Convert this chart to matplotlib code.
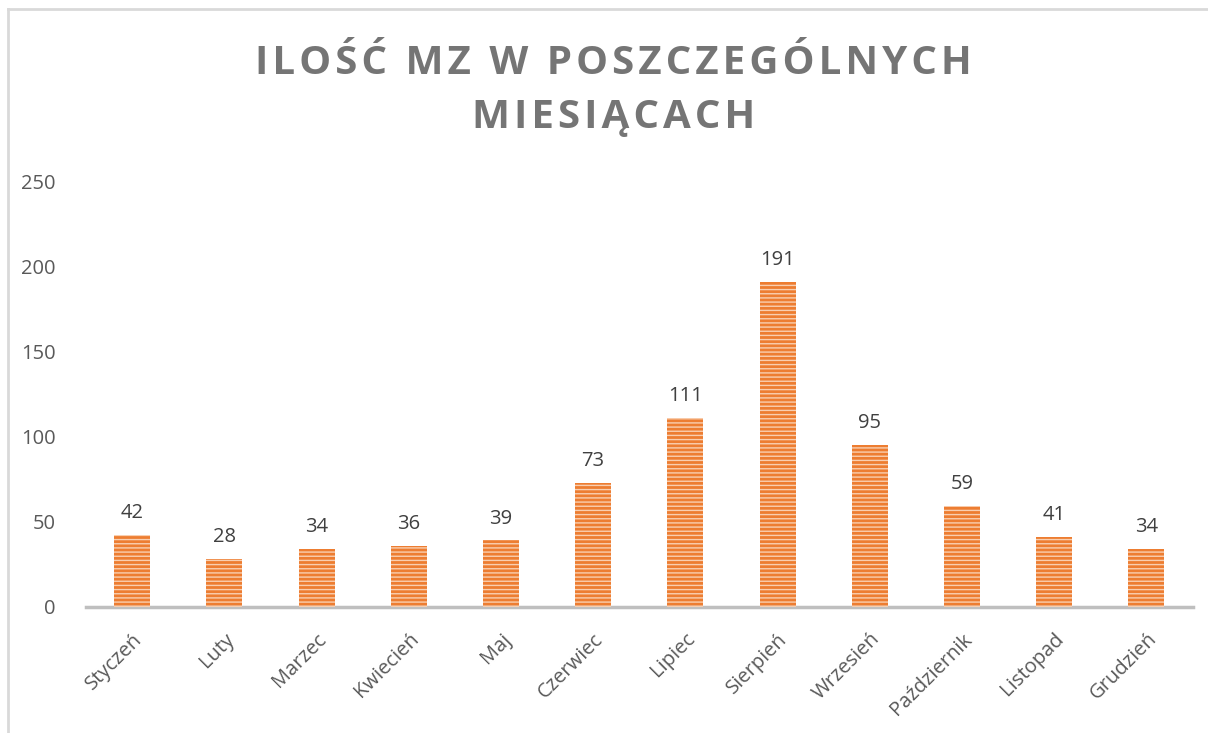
import matplotlib.pyplot as plt
from matplotlib.lines import Line2D

# dane
miesiace = ['Styczeń', 'Luty', 'Marzec', 'Kwiecień', 'Maj', 'Czerwiec',
            'Lipiec', 'Sierpień', 'Wrzesień', 'Październik', 'Listopad', 'Grudzień']
ilosc = [42, 28, 34, 36, 39, 73, 111, 191, 95, 59, 41, 34]
yticks = [0, 50, 100, 150, 200, 250]
tytul = ['ILOŚĆ MZ W POSZCZEGÓLNYCH', 'MIESIĄCACH']

plt.rcParams['font.family'] = ['Open Sans', 'DejaVu Sans']
plt.rcParams['hatch.linewidth'] = 1.0

fig = plt.figure(figsize=(12.08, 7.33), dpi=100)
ax = fig.add_axes([0.0712, 0.172, 0.916, 0.581])

x = range(len(miesiace))
# tlo slupka + jasne paski
ax.bar(x, ilosc, width=0.39, color='#ED7D31', linewidth=0, zorder=2)
ax.bar(x, ilosc, width=0.39, facecolor='none', edgecolor='#F9CFB0',
       hatch='----', linewidth=0, zorder=3)

for i, v in zip(x, ilosc):
    ax.text(i, v + 7, str(v), ha='center', va='bottom', fontsize=14.5, color='#404040')

ax.set_xlim(-0.5, len(miesiace) - 0.5)
ax.set_ylim(0, 250)
ax.set_yticks(yticks)
ax.set_xticks(list(x))
ax.set_xticklabels(miesiace, rotation=45, ha='right', rotation_mode='anchor')
ax.tick_params(axis='both', length=0, labelsize=14.5, colors='#595959')
ax.tick_params(axis='x', pad=16)
ax.tick_params(axis='y', pad=22)

for s in ['top', 'right', 'left']:
    ax.spines[s].set_visible(False)
ax.spines['bottom'].set_color('#BFBFBF')
ax.spines['bottom'].set_linewidth(2.5)

# tytul z rozstrzelonymi literami
hs = '\u200a'
tekst = '\n'.join(hs.join(linia) for linia in tytul)
fig.text(0.508, 0.876, tekst, ha='center', va='center',
         fontsize=29, fontweight='bold', color='#757575', linespacing=1.5,
         family=['Open Sans', 'DejaVu Sans'])

# ramka wykresu
fig.add_artist(Line2D([0.0066, 1.0], [0.988, 0.988], color='#D9D9D9', lw=2, transform=fig.transFigure))
fig.add_artist(Line2D([0.0066, 0.0066], [0.0, 0.988], color='#D9D9D9', lw=2, transform=fig.transFigure))

plt.savefig('out.png', dpi=100)
